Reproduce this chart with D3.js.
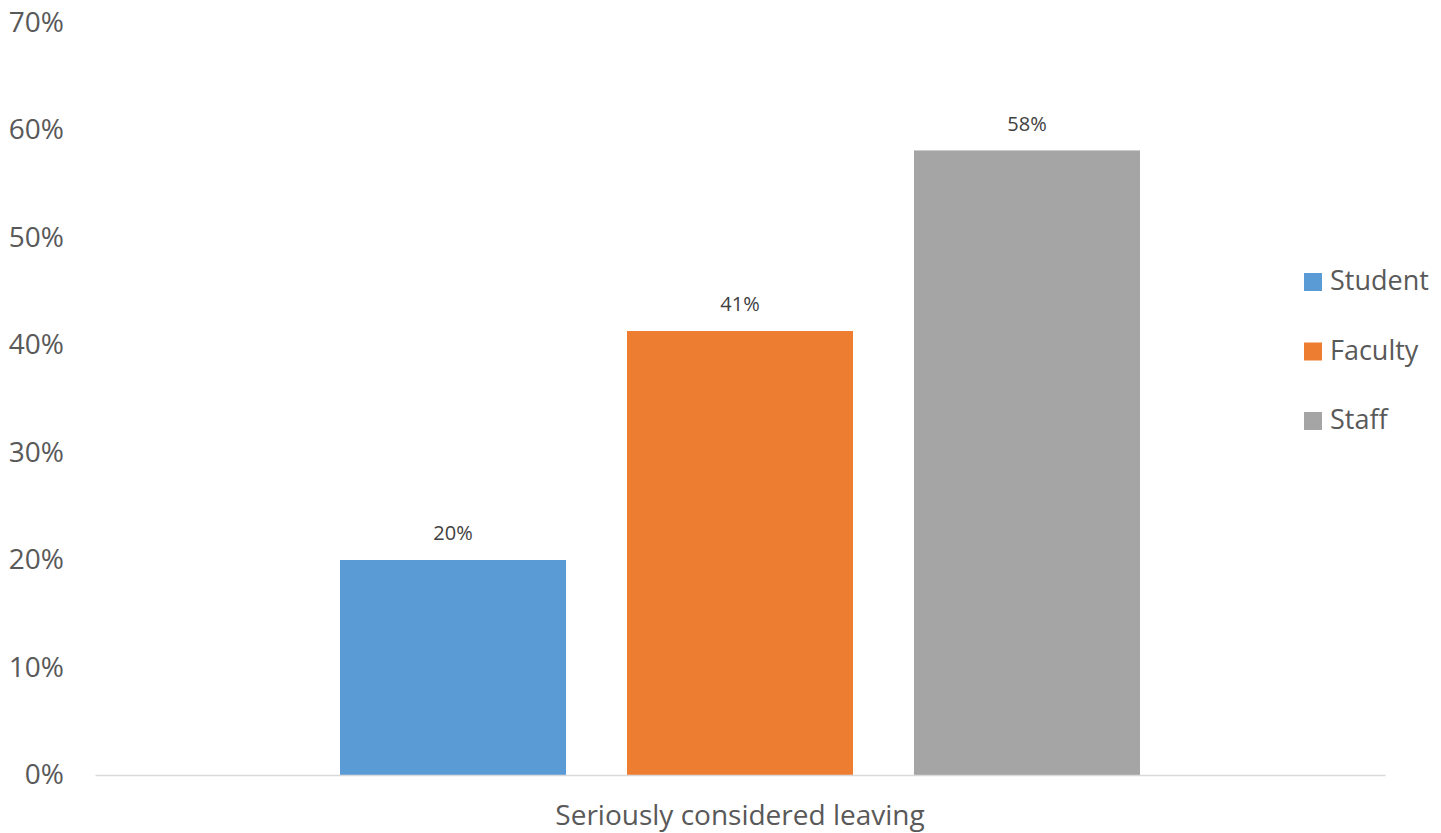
<!DOCTYPE html>
<html lang="en">
<head>
    <meta charset="UTF-8">
    <title>Seriously considered leaving</title>
    <script src="https://cdn.jsdelivr.net/npm/d3@7"></script>
    <style>
        body { margin: 0; background: #fff; }
        svg text { font-family: "Open Sans", "Noto Sans", sans-serif; }
    </style>
</head>
<body>
    <svg width="1441" height="833" id="mainsvg"></svg>
    <script>
        // data
        const categories = ['Seriously considered leaving']
        const seriesNames = ['Student', 'Faculty', 'Staff']
        const seriesValues = [0.20, 0.413, 0.581]
        const seriesColors = ['#5B9BD5', '#ED7D31', '#A5A5A5']
        const yTicks = [0, 0.1, 0.2, 0.3, 0.4, 0.5, 0.6, 0.7]

        const svg = d3.select('#mainsvg')
        const margin = {top: 22.5, left: 95, right: 56, bottom: 58}
        const width = +svg.attr('width')
        const height = +svg.attr('height')

        const yScale = d3.scaleLinear()
            .domain([0, 0.7])
            .range([height - margin.bottom, margin.top])

        const x0 = d3.scaleBand()
            .domain(categories)
            .range([margin.left, width - margin.right])
            .paddingInner(0)
            .paddingOuter(0.30625)

        const x1 = d3.scaleBand()
            .domain(seriesNames)
            .range([0, x0.bandwidth()])
            .paddingInner(0.2125)
            .paddingOuter(0)

        // y axis labels
        const yAxis = d3.axisLeft(yScale)
            .tickValues(yTicks)
            .tickSize(0)
            .tickPadding(31)
            .tickFormat(d3.format('.0%'))
        const yAxisGroup = svg.append('g')
            .attr('transform', `translate(${margin.left},0)`)
            .call(yAxis)
        yAxisGroup.select('.domain').remove()
        yAxisGroup.selectAll('.tick text')
            .attr('font-size', '28px')
            .attr('fill', '#595959')
            .attr('font-family', '"Open Sans", sans-serif')

        // bars
        const group = svg.selectAll('.cat').data(categories).join('g')
            .attr('class', 'cat')
            .attr('transform', d => `translate(${x0(d)},0)`)

        const rows = seriesNames.map((name, i) => ({name: name, value: seriesValues[i], color: seriesColors[i]}))

        group.selectAll('rect').data(rows).join('rect')
            .attr('x', d => x1(d.name))
            .attr('y', d => yScale(d.value))
            .attr('width', x1.bandwidth())
            .attr('height', d => yScale(0) - yScale(d.value))
            .attr('fill', d => d.color)

        group.selectAll('.label').data(rows).join('text')
            .attr('class', 'label')
            .attr('x', d => x1(d.name) + x1.bandwidth() / 2)
            .attr('y', d => yScale(d.value) - 25)
            .attr('text-anchor', 'middle')
            .attr('dominant-baseline', 'middle')
            .attr('font-size', '20px')
            .attr('fill', '#404040')
            .text(d => d3.format('.0%')(d.value))

        // x axis
        const xAxis = d3.axisBottom(x0).tickSize(0).tickPadding(30)
        const xAxisGroup = svg.append('g')
            .attr('transform', `translate(0,${yScale(0)})`)
            .call(xAxis)
        xAxisGroup.select('.domain')
            .attr('stroke', '#D9D9D9')
            .attr('stroke-width', 1.5)
        xAxisGroup.selectAll('.tick text')
            .attr('font-size', '28px')
            .attr('fill', '#595959')
            .attr('font-family', '"Open Sans", sans-serif')

        // legend
        const legend = svg.append('g')
            .attr('transform', 'translate(1304, 282)')
        const legendItems = legend.selectAll('g').data(rows).join('g')
            .attr('transform', (d, i) => `translate(0, ${i * 69.5})`)
        legendItems.append('rect')
            .attr('x', 0).attr('y', -9)
            .attr('width', 18).attr('height', 18)
            .attr('fill', d => d.color)
        legendItems.append('text')
            .attr('x', 26)
            .attr('y', 1)
            .attr('dominant-baseline', 'middle')
            .attr('font-size', '27px')
            .attr('fill', '#595959')
            .text(d => d.name)
    </script>
</body>
</html>
